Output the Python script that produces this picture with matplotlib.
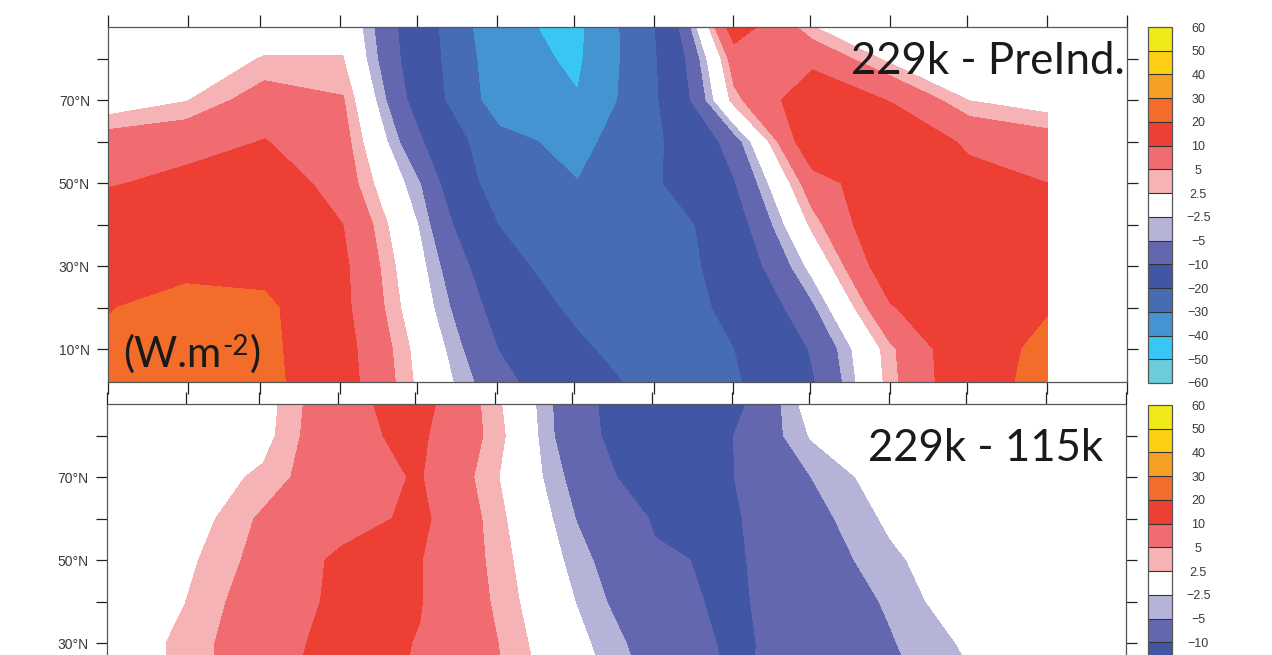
import matplotlib
matplotlib.use("Agg")
import numpy as np
import matplotlib.pyplot as plt
from matplotlib.colors import ListedColormap, BoundaryNorm

# grid: day of year (13 points) x latitude (10 rows)
days = [0, 30.4, 60.8, 91.3, 121.7, 152.1, 182.5, 212.9, 243.3, 273.8, 304.2, 334.6, 365]
lats = [2, 10, 20, 30, 40, 50, 60, 70, 80, 88]

# 229k - PreInd. (W m-2), rows = lats
preind = [
    [24, 25, 22.8, 12.3, 1.4, -8.1, -15.8, -23.1, -21.2, -10.5, 3.9, 14.6, 23.8],
    [22, 24, 22.4, 12, 0.9, -10.2, -18.2, -26.5, -20.1, -9.4, 4.3, 14.8, 22.5],
    [19.5, 24, 22, 11.25, -0.6, -12.5, -22.25, -26, -17.7, -5.7, 9.6, 15, 19.2],
    [15, 17, 17, 11, -1.7, -15.2, -27.6, -27, -15.1, -1.2, 14.1, 17, 17],
    [14, 15, 16, 10, -3.1, -20.3, -27, -27, -13.1, 3.4, 16, 17, 17],
    [9.5, 11.5, 14, 7.4, -5.2, -25.2, -29.8, -21, -10.4, 7.7, 14, 12, 10],
    [7, 8, 10.2, 6.6, -9.5, -27, -33, -21.6, -7.2, 14.8, 15, 9, 7],
    [0, 2.3, 7, 5.3, -13.4, -35.2, -39.5, -21, 3.9, 14, 9.7, 2.4, 0.5],
    [0, 0.5, 2.7, 2.6, -14.6, -36.3, -41.5, -20.5, 7.1, 8.5, 1.5, 0.5, 0.3],
    [0, 0, 0.5, 1.5, -15, -38.1, -42.1, -19.7, 13.5, 2.4, 0.3, 0.2, 0.1],
]

# 229k - 115k
k115 = [
    [2.5, 5.5, 9, 12, 9, 6, 0.5, -4.5, -9.5, -9.5, -7.5, -4, -1.5],
    [2, 5, 9, 12, 9, 6, 0, -5, -10, -9, -7, -3.5, -1],
    [0.5, 3.0, 8.5, 12, 9.5, 5.5, -0.5, -6, -10.5, -8.8, -6, -3, -0.5],
    [0.3, 3.2, 7.9, 11.7, 9.8, 5.0, -1.5, -7.0, -10.8, -8.1, -5.3, -2.0, 0],
    [0.5, 2.45, 7.3, 11, 10.2, 4.4, -2.6, -8.8, -10.7, -7.6, -4.6, -0.1, 0],
    [0, 1.7, 6.3, 11, 10.2, 3.97, -3.8, -9.5, -10.6, -7.2, -3.2, 0, 0],
    [0, 0.5, 5.6, 8, 11.1, 3.4, -5.1, -10.4, -10.5, -6.3, -1.9, 0, 0],
    [0, 0.5, 3.1, 8.5, 10.3, 2.6, -6.4, -13.4, -10.1, -5, -0.6, 0, 0],
    [0, 0.3, 1.3, 9.1, 10.8, 3.6, -8.4, -13.5, -10.1, -2.2, 0, 0, 0],
    [0, 0.5, 1.0, 8.8, 11.8, 3.0, -8.5, -14, -12, -0.6, 0, 0, 0],
]

levels = [-60, -50, -40, -30, -20, -10, -5, -2.5, 2.5, 5, 10, 20, 30, 40, 50, 60]
level_labels = ["\u221260", "\u221250", "\u221240", "\u221230", "\u221220", "\u221210", "\u22125",
                "\u22122.5", "2.5", "5", "10", "20", "30", "40", "50", "60"]
colors = ["#6BCCDB", "#38C6F4", "#4394D0", "#466CB4", "#4157A6", "#6367B0", "#B6B3D8",
          "#FFFFFF", "#F6B3B5", "#F06C70", "#EE3F35", "#F26C2A", "#F69F25", "#FCCF15", "#F1EA19"]
cmap = ListedColormap(colors)

month_edges = [0, 31, 59, 90, 120, 151, 181, 212, 243, 273, 304, 334, 365, 396]
lat_ticks = [10, 20, 30, 40, 50, 60, 70, 80]
lat_labels = ["10°N", "", "30°N", "", "50°N", "", "70°N", ""]

W, H = 1272, 655
fig = plt.figure(figsize=(W / 100, H / 100), dpi=100)


def box(x0, y0, x1, y1):
    return [x0 / W, 1 - y1 / H, (x1 - x0) / W, (y1 - y0) / H]


def panel(rect, crect, data, ylabels, cblabels):
    ax = fig.add_axes(box(*rect))
    norm = BoundaryNorm(levels, cmap.N)
    cs = ax.contourf(days, lats, np.array(data), levels=levels, cmap=cmap, norm=norm)
    ax.set_xlim(0, 396)
    ax.set_ylim(2.05, 87.6)
    ax.set_xticks(month_edges)
    ax.set_xticklabels([])
    ax.set_yticks(lat_ticks)
    ax.set_yticklabels(ylabels, fontsize=10, color="#3a3a3a", family="Liberation Sans")
    ax.tick_params(axis="x", top=True, bottom=True, direction="out", length=8.5,
                   width=0.9, color="#222222")
    ax.tick_params(axis="y", left=True, right=True, direction="out", length=8,
                   width=0.9, color="#222222", pad=5)
    for s in ax.spines.values():
        s.set_color("#555555")
        s.set_linewidth(0.9)

    cax = fig.add_axes(box(*crect))
    cb = fig.colorbar(cs, cax=cax, drawedges=True)
    cb.set_ticks(levels, labels=cblabels)
    cb.outline.set_edgecolor("#555555")
    cb.outline.set_linewidth(0.9)
    cb.dividers.set_color("#333333")
    cb.dividers.set_linewidth(0.8)
    cax.tick_params(length=0, pad=19, labelsize=9, labelcolor="#3a3a3a")
    for lab in cax.get_yticklabels():
        lab.set_horizontalalignment("center")
        lab.set_family("Liberation Sans")
    return ax


ax1 = panel((108, 27, 1127, 382), (1148, 27, 1172, 383), preind, lat_labels, level_labels)
# lower panel runs past the bottom edge of the picture; labels out of view left blank
ax2 = panel((106.7, 404, 1125.7, 759), (1148, 405, 1172, 761), k115,
            [""] + lat_labels[1:], [""] * 5 + level_labels[5:])

fig.text(1125 / W, 1 - 74 / H, "229k - PreInd.", ha="right", va="baseline",
         fontsize=31.5, family="Lato", color="#1a1a1a")
fig.text(1103 / W, 1 - 461 / H, "229k - 115k", ha="right", va="baseline",
         fontsize=31.5, family="Lato", color="#1a1a1a")

# (W.m-2) built from three pieces so the exponent keeps a plain hyphen
r = fig.canvas.get_renderer()
t1 = fig.text(123 / W, 1 - 367 / H, "(W.m", ha="left", va="baseline",
              fontsize=30, family="Lato", color="#1a1a1a")
x = t1.get_window_extent(r).x1
t2 = fig.text(x / W + 0.001, 1 - 355 / H, "-2", ha="left", va="baseline",
              fontsize=20, family="Lato", color="#1a1a1a")
x = t2.get_window_extent(r).x1
fig.text(x / W + 0.001, 1 - 367 / H, ")", ha="left", va="baseline",
         fontsize=30, family="Lato", color="#1a1a1a")

fig.savefig("out.png", dpi=100)
